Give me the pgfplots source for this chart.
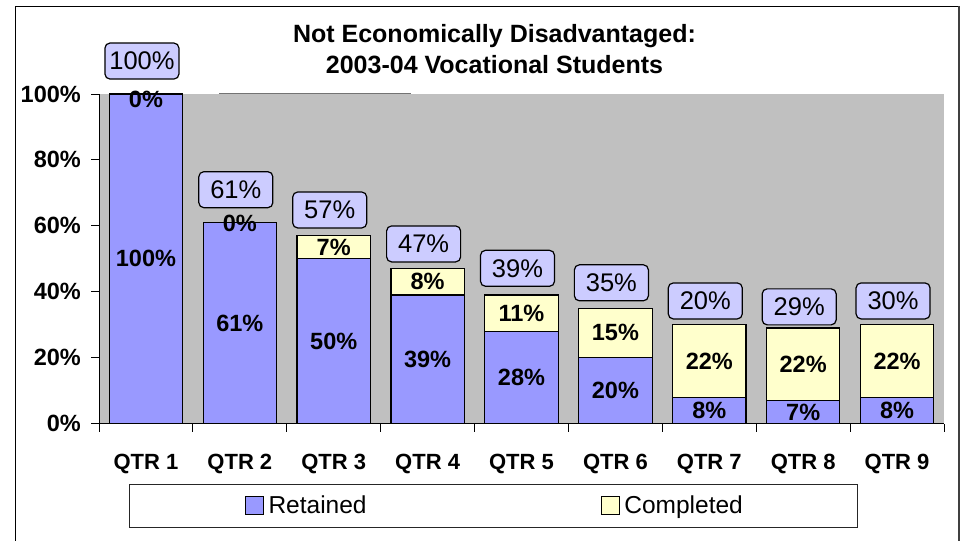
\documentclass[border=0pt]{standalone}
\usepackage{pgfplots}
\pgfplotsset{compat=1.18}
\usepackage{pgfplotstable}
\usepackage{fontspec}
\setmainfont{Liberation Sans}
\definecolor{retc}{HTML}{9999FF}
\definecolor{comc}{HTML}{FFFFCC}
\definecolor{callc}{HTML}{CCCCFF}
\definecolor{plotbg}{HTML}{C0C0C0}
% bar values (percent)
\pgfplotstableread{
x ret com
0 100 0
1 61 0
2 50 7
3 39 8
4 28 11
5 20 15
6 8 22
7 7 22
8 8 22
}\bars
% segment labels: x, label position, value
\pgfplotstableread{
x y v
0 50 100
1 30.5 61
2 25 50
3 19.5 39
4 14 28
5 10 20
6 4 8
7 3.5 7
8 4 8
0 98.5 0
1 60.8 0
2 53.5 7
3 43 8
4 33.5 11
5 27.5 15
6 19 22
7 18 22
8 19 22
}\seglabels
% callout boxes: x, box centre, value shown
\pgfplotstableread{
x y v
0 110.0 100
1 70.96 61
2 64.8 57
3 54.5 47
4 47.1 39
5 42.7 35
6 37.2 20
7 35.4 29
8 37.2 30
}\callouts
\begin{document}
\begin{tikzpicture}[x=1pt,y=1pt]
\useasboundingbox (0,0) rectangle (965,-540);
\draw[line width=1.2pt] (15.5,-541) -- (15.5,-6.5) -- (959,-6.5);
\draw[line width=2.2pt, black!75] (959,-6.5) -- (959,-541);
\node[font=\bfseries\fontsize{25}{25}\selectfont, anchor=base, inner sep=0pt] at (494.5,-42.7) {Not Economically Disadvantaged:};
\node[font=\bfseries\fontsize{25}{25}\selectfont, anchor=base, inner sep=0pt] at (494.5,-73.3) {2003-04 Vocational Students};
\begin{axis}[
  at={(99pt,-423.5pt)}, anchor=south west,
  width=845pt, height=329.5pt, scale only axis,
  xmin=-0.5, xmax=8.5, ymin=0, ymax=100,
  ybar stacked, bar width=0.782,
  axis background/.style={fill=plotbg},
  axis x line*=bottom, axis y line*=left,
  axis line style={line width=1pt, black},
  tick align=outside, major tick length=8pt,
  tick style={black, line width=1pt},
  ytick={0,20,...,100}, yticklabels={0\%,20\%,40\%,60\%,80\%,100\%},
  yticklabel style={font=\bfseries\fontsize{23.5}{24}\selectfont, inner sep=0pt, anchor=east, xshift=-10pt},
  xtick={-0.5,0.5,...,8.5}, xticklabels={},
  extra x ticks={0,1,...,8},
  extra x tick labels={QTR 1,QTR 2,QTR 3,QTR 4,QTR 5,QTR 6,QTR 7,QTR 8,QTR 9},
  extra x tick style={major tick length=0pt, xticklabel style={font=\bfseries\fontsize{22}{22}\selectfont, inner sep=0pt, anchor=base, yshift=-45.8pt}},
  clip=false,
  legend style={at={(0.4672,-0.2498)}, anchor=center, legend columns=2, draw=black!85, line width=0.8pt,
    inner xsep=115pt, inner ysep=11.5pt, font=\fontsize{24.5}{25}\selectfont, nodes={inner sep=0pt},
    /tikz/every odd column/.append style={column sep=5pt},
    /tikz/every even column/.append style={column sep=234pt}},
  legend image code/.code={\draw[#1, line width=0.8pt] (0pt,-9pt) rectangle (18pt,9pt);},
]
\addplot[fill=retc, draw=black, line width=1.2pt] table[x=x, y=ret]{\bars};
\addplot[fill=comc, draw=black, line width=1.2pt] table[x=x, y=com]{\bars};
\legend{Retained, Completed}
\end{axis}
\begin{axis}[
  at={(99pt,-423.5pt)}, anchor=south west,
  width=845pt, height=329.5pt, scale only axis,
  xmin=-0.5, xmax=8.5, ymin=0, ymax=100,
  axis lines=none, clip=false,
  /pgf/number format/assume math mode=true,
]
\addplot[draw=none, mark=none, point meta=explicit,
  nodes near coords={\pgfmathprintnumber{\pgfplotspointmeta}\%},
  nodes near coords align=center,
  every node near coord/.append style={anchor=center, inner sep=0pt,
    font=\bfseries\fontsize{23.5}{24}\selectfont}]
  table[x=x, y=y, meta=v]{\seglabels};
\addplot[draw=none, mark=none, point meta=explicit,
  nodes near coords={\pgfmathprintnumber{\pgfplotspointmeta}\%},
  nodes near coords align=center,
  every node near coord/.append style={anchor=center, draw=black, fill=callc, rounded corners=5pt,
    minimum width=74pt, minimum height=36pt, inner sep=0pt, line width=1.2pt, xshift=-4pt,
    font=\fontsize{25.5}{26}\selectfont}]
  table[x=x, y=y, meta=v]{\callouts};
\end{axis}
\draw[line width=1pt, black!55] (219,-94) -- (411,-94);
\end{tikzpicture}
\end{document}
